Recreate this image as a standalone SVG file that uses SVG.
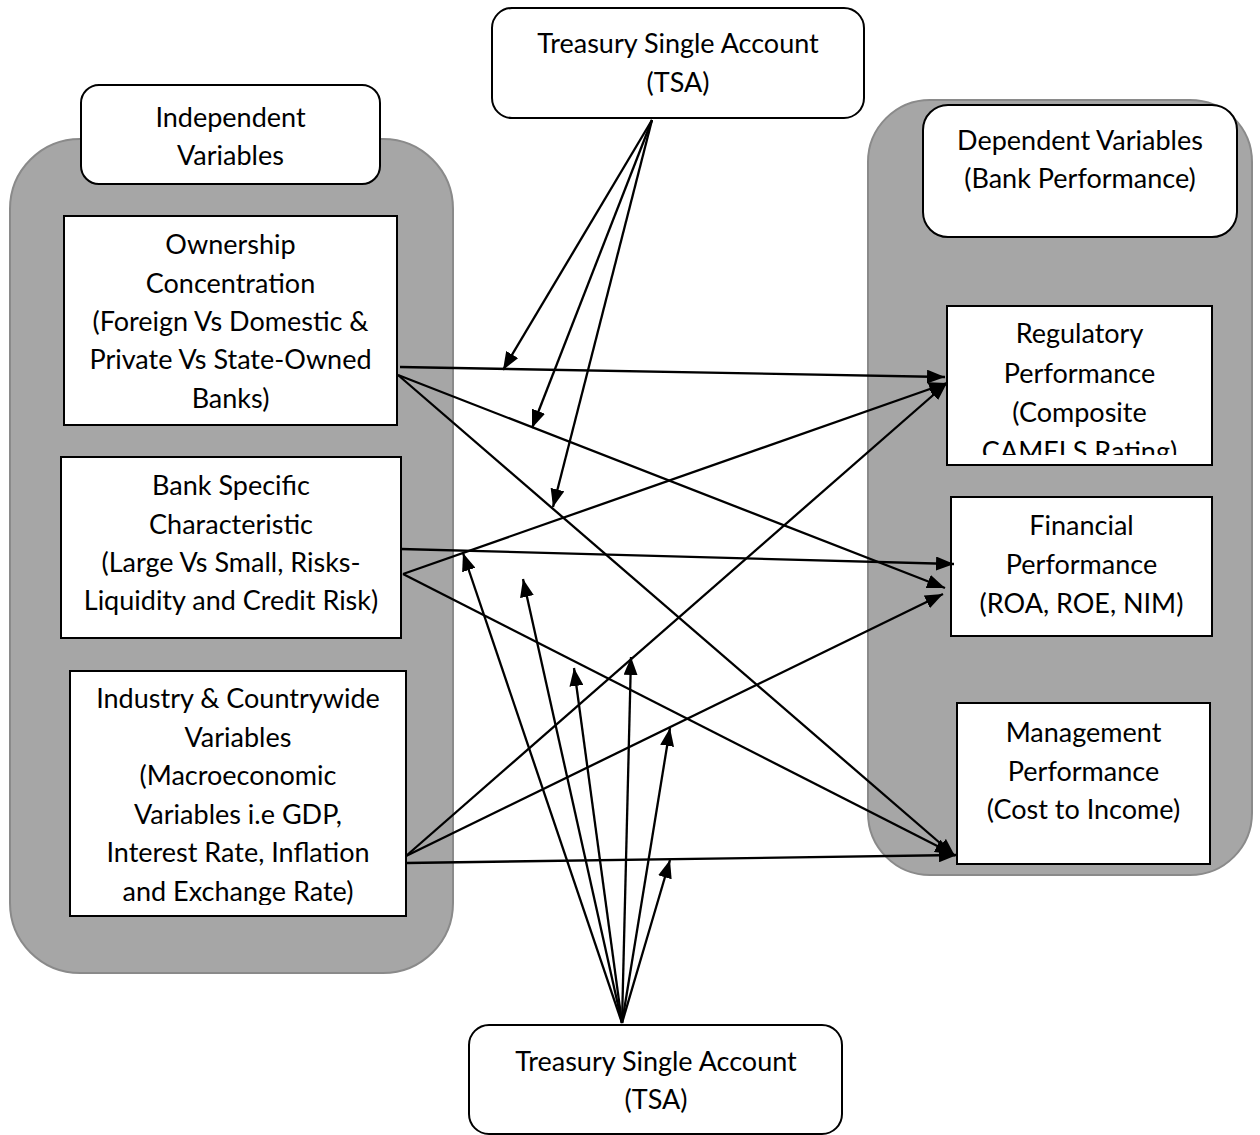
<svg xmlns="http://www.w3.org/2000/svg" width="1260" height="1135" viewBox="0 0 1260 1135">
  <style>
    .panel { fill: #a6a6a6; stroke: #8a8a8a; stroke-width: 2; }
    .box { fill: #ffffff; stroke: #000000; stroke-width: 2; }
    .lbl { font-family: Lato, "Open Sans", "Liberation Sans", sans-serif; font-size: 27px; fill: #000000; text-anchor: middle; }
    .link { fill: none; stroke: #000000; stroke-width: 2.3; marker-end: url(#arrow); }
  </style>
  <defs>
    <marker id="arrow" markerUnits="userSpaceOnUse" markerWidth="18" markerHeight="14" viewBox="0 0 18 14" refX="18" refY="7" orient="auto">
      <path d="M0,0 L18,7 L0,14 Z" fill="#000000"/>
    </marker>
    <clipPath id="clip-regulatory"><rect x="948" y="307" width="263" height="148"/></clipPath>
    <clipPath id="clip-industry"><rect x="71" y="672" width="334" height="233"/></clipPath>
  </defs>

  <rect width="1260" height="1135" fill="#ffffff"/>

  <!-- grey group panels -->
  <g id="panel-independent">
    <rect class="panel" x="10" y="139" width="443" height="834" rx="70" ry="70"/>
  </g>
  <g id="panel-dependent">
    <rect class="panel" x="868" y="100" width="384" height="775" rx="62" ry="62"/>
  </g>

  <g id="node-independent-title">
    <rect class="box" x="81" y="85" width="299" height="99" rx="18" ry="18"/>
    <text class="lbl" x="230.5" y="127">Independent</text>
    <text class="lbl" x="230.5" y="165">Variables</text>
  </g>

  <g id="node-dependent-title">
    <rect class="box" x="923" y="105" width="314" height="132" rx="25" ry="25"/>
    <text class="lbl" x="1080" y="150">Dependent Variables</text>
    <text class="lbl" x="1080" y="188">(Bank Performance)</text>
  </g>

  <g id="node-tsa-top">
    <rect class="box" x="492" y="8" width="372" height="110" rx="20" ry="20"/>
    <text class="lbl" x="678" y="53">Treasury Single Account</text>
    <text class="lbl" x="678" y="92">(TSA)</text>
  </g>

  <g id="node-tsa-bottom">
    <rect class="box" x="469" y="1025" width="373" height="109" rx="20" ry="20"/>
    <text class="lbl" x="656" y="1071">Treasury Single Account</text>
    <text class="lbl" x="656" y="1109">(TSA)</text>
  </g>

  <g id="node-ownership">
    <rect class="box" x="64" y="216" width="333" height="209"/>
    <text class="lbl" x="230.5" y="254">Ownership</text>
    <text class="lbl" x="230.5" y="293">Concentration</text>
    <text class="lbl" x="230.5" y="331">(Foreign Vs Domestic &amp;</text>
    <text class="lbl" x="230.5" y="369">Private Vs State-Owned</text>
    <text class="lbl" x="230.5" y="408">Banks)</text>
  </g>

  <g id="node-bank-specific">
    <rect class="box" x="61" y="457" width="340" height="181"/>
    <text class="lbl" x="231" y="495">Bank Specific</text>
    <text class="lbl" x="231" y="534">Characteristic</text>
    <text class="lbl" x="231" y="572">(Large Vs Small, Risks-</text>
    <text class="lbl" x="231" y="610">Liquidity and Credit Risk)</text>
  </g>

  <g id="node-industry">
    <rect class="box" x="70" y="671" width="336" height="245"/>
    <g clip-path="url(#clip-industry)">
      <text class="lbl" x="238" y="708">Industry &amp; Countrywide</text>
      <text class="lbl" x="238" y="747">Variables</text>
      <text class="lbl" x="238" y="785">(Macroeconomic</text>
      <text class="lbl" x="238" y="824">Variables i.e GDP,</text>
      <text class="lbl" x="238" y="862">Interest Rate, Inflation</text>
      <text class="lbl" x="238" y="901">and Exchange Rate)</text>
    </g>
  </g>

  <g id="node-regulatory">
    <rect class="box" x="947" y="306" width="265" height="159"/>
    <g clip-path="url(#clip-regulatory)">
      <text class="lbl" x="1079.5" y="343">Regulatory</text>
      <text class="lbl" x="1079.5" y="383">Performance</text>
      <text class="lbl" x="1079.5" y="422">(Composite</text>
      <text class="lbl" x="1079.5" y="461">CAMELS Rating)</text>
    </g>
  </g>

  <g id="node-financial">
    <rect class="box" x="951" y="497" width="261" height="139"/>
    <text class="lbl" x="1081.5" y="535">Financial</text>
    <text class="lbl" x="1081.5" y="574">Performance</text>
    <text class="lbl" x="1081.5" y="613">(ROA, ROE, NIM)</text>
  </g>

  <g id="node-management">
    <rect class="box" x="957" y="703" width="253" height="161"/>
    <text class="lbl" x="1083.5" y="742">Management</text>
    <text class="lbl" x="1083.5" y="781">Performance</text>
    <text class="lbl" x="1083.5" y="819">(Cost to Income)</text>
  </g>

  <!-- connectors -->
  <g id="connectors">
    <!-- from the upper TSA -->
    <line class="link" x1="652" y1="120" x2="503" y2="370"/>
    <line class="link" x1="652" y1="120" x2="532" y2="428"/>
    <line class="link" x1="652" y1="120" x2="553" y2="507"/>
    <!-- ownership concentration -->
    <line class="link" x1="400" y1="367" x2="945" y2="377"/>
    <line class="link" x1="398" y1="375" x2="945" y2="588"/>
    <line class="link" x1="398" y1="375" x2="955" y2="856"/>
    <!-- bank specific characteristic -->
    <line class="link" x1="401" y1="549" x2="954" y2="564"/>
    <line class="link" x1="403" y1="574" x2="947" y2="383"/>
    <line class="link" x1="403" y1="574" x2="953" y2="854"/>
    <!-- industry & countrywide -->
    <line class="link" x1="406" y1="856" x2="947" y2="383"/>
    <line class="link" x1="406" y1="856" x2="943" y2="594"/>
    <line class="link" x1="406" y1="863" x2="957" y2="855"/>
    <!-- from the lower TSA -->
    <line class="link" x1="622" y1="1023" x2="463" y2="553"/>
    <line class="link" x1="622" y1="1023" x2="523" y2="579"/>
    <line class="link" x1="622" y1="1023" x2="574" y2="668"/>
    <line class="link" x1="622" y1="1023" x2="631" y2="657"/>
    <line class="link" x1="622" y1="1023" x2="670" y2="728"/>
    <line class="link" x1="622" y1="1023" x2="670" y2="860"/>
  </g>
</svg>
